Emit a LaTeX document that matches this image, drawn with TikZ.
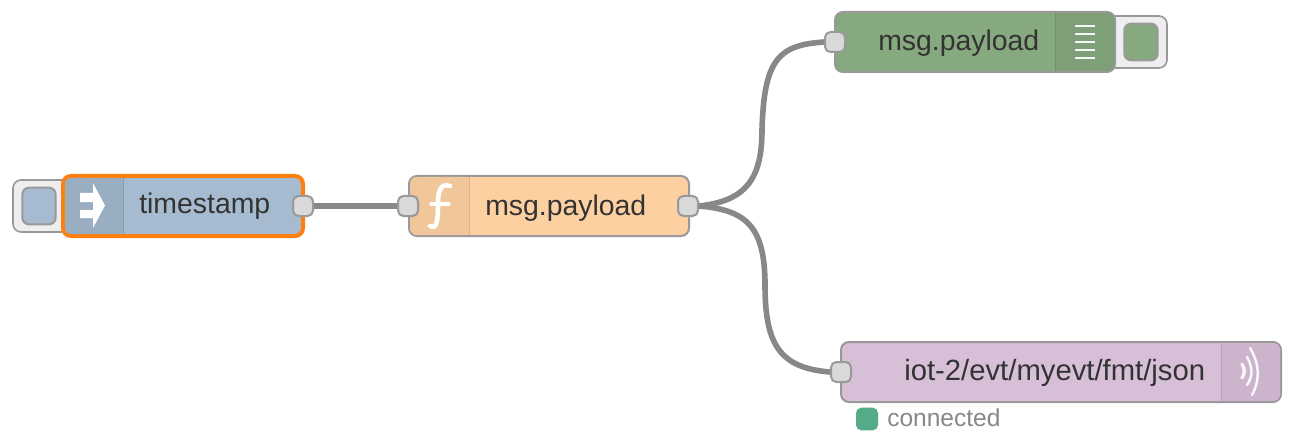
\documentclass[tikz,border=0pt]{standalone}
\usepackage{fontspec}
\setmainfont{Liberation Sans}
\usetikzlibrary{positioning}
\definecolor{edgegray}{HTML}{999999}
\definecolor{wiregray}{HTML}{888888}
\definecolor{portgray}{HTML}{D9D9D9}
\definecolor{btngray}{HTML}{EEEEEE}
\definecolor{tsblue}{HTML}{A6BBCF}
\definecolor{tsicon}{HTML}{9AAEC2}
\definecolor{fnorange}{HTML}{FDD0A2}
\definecolor{fnicon}{HTML}{F1C69B}
\definecolor{dbggreen}{HTML}{87A980}
\definecolor{dbgicon}{HTML}{7E9F78}
\definecolor{iotpurple}{HTML}{D8BFD8}
\definecolor{ioticon}{HTML}{CDB4CD}
\definecolor{selorange}{HTML}{FF7F0E}
\definecolor{okgreen}{HTML}{55AA88}
\begin{document}
\begin{tikzpicture}[x=0.75pt, y=-0.75pt,
	flow/.style={draw=edgegray,line width=1.5pt,rounded corners=6pt,minimum height=45pt,inner sep=0pt},
	port/.style={draw=edgegray,fill=portgray,line width=1.5pt,rounded corners=4pt,minimum width=15pt,minimum height=15pt,inner sep=0pt},
	btn/.style={draw=edgegray,fill=btngray,line width=1.2pt,rounded corners=6pt,minimum height=39pt,minimum width=45pt,inner sep=0pt},
	btnin/.style={draw=edgegray,line width=1.5pt,rounded corners=5pt,minimum width=25pt,minimum height=27.5pt,inner sep=0pt},
	lbl/.style={anchor=base west,inner sep=0pt,text=black!80,font=\fontsize{21.3pt}{24pt}\selectfont},
	wire/.style={draw=wiregray,line width=4.2pt},
	glyph/.style={draw=white,line width=3.4pt,line cap=round},
	wave/.style={draw=white!90!ioticon,line width=1.8pt,line cap=round}]
\useasboundingbox (0,0) rectangle (1306,442);
% left button and inject node
\node[btn] (tsbtn) at (43,206) {};
\node[btnin,fill=tsblue] (tsbtnin) at (39,206) {};
\node[flow,fill=tsblue,draw=selorange,line width=3pt,minimum width=180pt] (ts) at (183,206) {};
\fill[tsicon] (123,178) [rounded corners=4pt] -- (65,178) -- (65,234) [sharp corners] -- (123,234) -- cycle;
\draw[tsicon!90!black,line width=0.75pt] (123,178) -- (123,234);
\fill[white] (80,193) rectangle (93,202) (80,210) rectangle (93,218);
\fill[white] (93,183) -- (105,205.5) -- (93,228) -- cycle;
\node[lbl] (tslbl) at (139,214) {timestamp};
\node[port] (tsout) at (303,206) {};
% function node
\node[flow,fill=fnorange,minimum width=210pt] (fn) at (549,206) {};
\fill[fnicon] (469,177) [rounded corners=5pt] -- (410,177) -- (410,235) [sharp corners] -- (469,235) -- cycle;
\draw[fnicon!90!black,line width=0.75pt] (469,177) -- (469,235);
\draw[glyph] (450,186) .. controls (441,183) and (438,190) .. (438,204) .. controls (438,220) and (437,230) .. (430,226);
\draw[glyph,line width=2.4pt] (431,204) -- (449,204);
\node[lbl] (fnlbl) at (485,215) {msg.payload};
\node[port] (fnin) at (408,206) {};
\node[port] (fnout) at (688,206) {};
% debug node and right button
\node[btn] (dbgbtn) at (1137,42) {};
\node[btnin,fill=dbggreen] (dbgbtnin) at (1141,42) {};
\node[flow,fill=dbggreen,minimum width=210pt] (dbg) at (975,42) {};
\fill[dbgicon] (1055,13) [rounded corners=5pt] -- (1114,13) -- (1114,71) [sharp corners] -- (1055,71) -- cycle;
\draw[dbgicon!90!black,line width=0.75pt] (1055,13) -- (1055,71);
\foreach \y in {26,34,42,50,58}
	\draw[white!92!dbgicon,line width=2pt] (1075,\y) -- (1095,\y);
\node[lbl] (dbglbl) at (878,51) {msg.payload};
\node[port] (dbgin) at (835,42) {};
% mqtt node
\node[flow,fill=iotpurple,minimum width=330pt] (iot) at (1061,372) {};
\fill[ioticon] (1221,343) [rounded corners=5pt] -- (1280,343) -- (1280,401) [sharp corners] -- (1221,401) -- cycle;
\draw[ioticon!90!black,line width=0.75pt] (1221,343) -- (1221,401);
\draw[wave,line width=2.4pt] (1242,364) .. controls (1245,369) and (1245,373) .. (1242,378);
\draw[wave] (1247,357) .. controls (1253,368) and (1253,376) .. (1247,385);
\draw[wave] (1250,348) .. controls (1260,365) and (1260,380) .. (1252,395);
\node[lbl,font=\fontsize{21.95pt}{24pt}\selectfont] (iotlbl) at (904,380) {iot-2/evt/myevt/fmt/json};
\node[port] (iotin) at (841,372) {};
% status
\node[fill=okgreen,rounded corners=4pt,minimum width=16.5pt,minimum height=17pt,inner sep=0pt] (okdot) at (867,419) {};
\node[anchor=base west,inner sep=0pt,text=wiregray,font=\fontsize{18.4pt}{22pt}\selectfont] (oklbl) at (887,426) {connected};
% wires
\coordinate (dbgmid) at (762,130);
\coordinate (iotmid) at (765,285);
\draw[wire] (tsout.east) to (fnin.west);
\draw[wire] (fnout.east) .. controls (745,201) and (762,180) .. (dbgmid) .. controls (764,60) and (778,45) .. (dbgin.west);
\draw[wire] (fnout.east) .. controls (745,210) and (765,225) .. (iotmid) .. controls (765,345) and (780,368) .. (iotin.west);
\end{tikzpicture}
\end{document}
